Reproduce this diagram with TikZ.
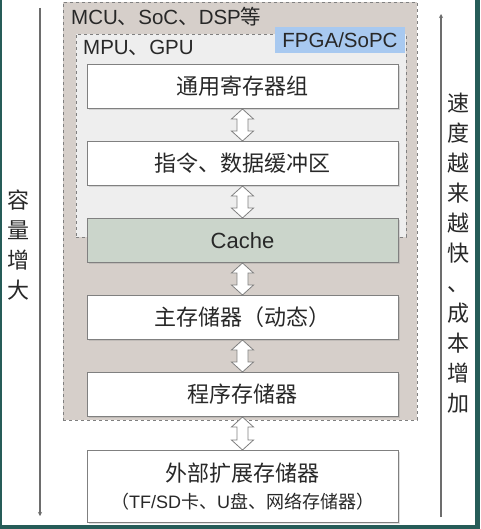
\documentclass[tikz,border=0pt]{standalone}
\usepackage{fontspec}
\setmainfont{Liberation Sans}
\newfontfamily\cjk{Noto Sans CJK SC}
\usetikzlibrary{arrows.meta,backgrounds,positioning,fit,calc,shadows}
\definecolor{framecol}{RGB}{38,92,88}
\definecolor{mcufill}{RGB}{214,207,202}
\definecolor{mpufill}{RGB}{238,238,238}
\definecolor{cachefill}{RGB}{203,213,203}
\definecolor{fpgafill}{RGB}{168,201,240}
\definecolor{edgegray}{RGB}{128,128,128}
\definecolor{textgray}{RGB}{40,40,40}
% block double arrow from the bottom of #1 to the top of #2
\newcommand\memlink[2]{\draw[link] (#1.south) -- ++(11,10) -- ++(-5.5,0)
  -- ($(#2.north)+(5.5,-10)$) -- ++(5.5,0) -- (#2.north) -- ++(-11,-10)
  -- ++(5.5,0) -- ($(#1.south)+(-5.5,10)$) -- ++(-5.5,0) -- cycle;}

\begin{document}
\begin{tikzpicture}
[x=1pt,y=-1pt,
mem/.style={rectangle,draw=edgegray,fill=white,line width=1pt,minimum width=311pt,minimum height=44pt,inner sep=0pt,text=textgray,font=\cjk\fontsize{22}{28}\selectfont,drop shadow={shadow xshift=1.5pt,shadow yshift=-1.5pt,opacity=0.25}},
link/.style={draw=edgegray,fill=white,line width=0.8pt,line join=miter},
zone/.style={rectangle,draw=edgegray,dashed,line width=0.9pt,inner sep=0pt},
tag/.style={anchor=base west,text=textgray,font=\fontsize{20.5}{24}\selectfont,inner sep=0pt},
side/.style={align=center,text=textgray,font=\cjk\fontsize{22}{30}\selectfont},
trend/.style={draw=edgegray!85!black,line width=1.2pt}]
\useasboundingbox (0,0) rectangle (480,529);
% memory levels
\node[mem] (reg) at (242.5,86.5) {通用寄存器组};
\node[mem] (buf) [below=32pt of reg] {指令、数据缓冲区};
\node[mem,fill=cachefill,font=\fontsize{22}{28}\selectfont] (cache) [below=32pt of buf] {Cache};
\node[mem] (dram) [below=32pt of cache] {主存储器（动态）};
\node[mem] (prog) [below=32pt of dram] {程序存储器};
\node[mem,minimum height=72pt,align=center] (ext) [below=33pt of prog]
{外部扩展存储器\\[-1pt]{\fontsize{18}{20}\selectfont （\fontspec{Liberation Sans}TF/SD\cjk 卡、\fontspec{Liberation Sans}U\cjk 盘、网络存储器）}};
\memlink{reg}{buf}
\memlink{buf}{cache}
\memlink{cache}{dram}
\memlink{dram}{prog}
\memlink{prog}{ext}
% chip classes
\coordinate (mcu nw) at (63,2);
\coordinate (mcu se) at (417,420);
\coordinate (mpu nw) at (76,34);
\coordinate (mpu se) at (406,237);
\begin{scope}[on background layer]
\fill[framecol] (0,0) rectangle (480,529);
\fill[white] (2,0) rectangle (475,525);
\node[zone,fill=mcufill,fit=(mcu nw) (mcu se)] (mcu) {};
\node[zone,fill=mpufill,fit=(mpu nw) (mpu se)] (mpu) {};
\end{scope}
\node[tag] (mcu label) at (71,25) {MCU{\cjk 、}SoC{\cjk 、}DSP{\cjk 等}};
\node[tag] (mpu label) at (83,55) {MPU{\cjk 、}GPU};
\node[fill=fpgafill,minimum width=130pt,minimum height=26pt,inner sep=0pt,text=textgray,font=\fontsize{20.5}{24}\selectfont] (fpga) at (340,40) {FPGA/SoPC};
% trends
\coordinate (cap top) at (40,8);
\coordinate (cap end) at (40,516);
\coordinate (speed low) at (441,517);
\coordinate (speed top) at (441,14);
\draw[trend,-{Stealth[length=4pt,width=4pt]}] (cap top) -- (cap end);
\draw[trend,-{Stealth[length=4pt,width=4pt]}] (speed low) -- (speed top);
\node[side] (capacity) at (19,245) {容\\量\\增\\大};
\node[side] (speed) at (458,253) {速\\度\\越\\来\\越\\快\\、\\成\\本\\增\\加};
\end{tikzpicture}
\end{document}
